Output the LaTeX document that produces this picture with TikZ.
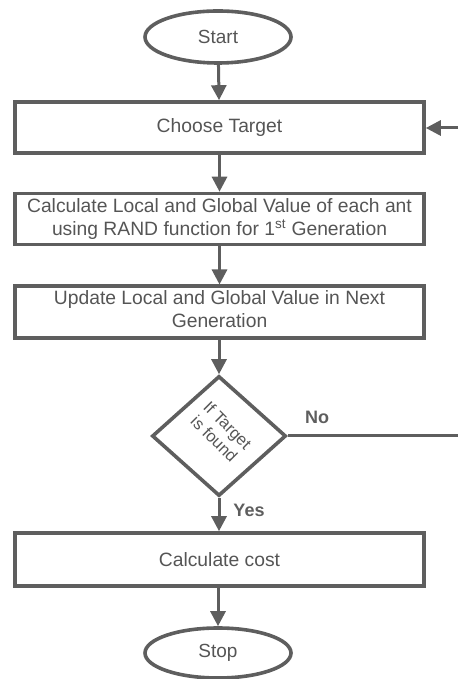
\documentclass[tikz,border=0pt]{standalone}
\usepackage{fontspec}
\setmainfont{Liberation Sans}
\usetikzlibrary{shapes.geometric,arrows.meta}
\definecolor{ln}{HTML}{5E5E5E}
\definecolor{tx}{HTML}{555555}
\tikzset{
  box/.style={draw=ln,line width=3.6pt,minimum width=409pt,inner sep=0pt,align=center,text=tx,font=\fontsize{19.3}{23.5}\selectfont},
  term/.style={draw=ln,line width=3.6pt,ellipse,minimum width=146pt,minimum height=52pt,inner sep=0pt,text=tx,font=\fontsize{19}{22}\selectfont},
  dec/.style={draw=ln,line width=3.6pt,diamond,minimum width=134pt,minimum height=120pt,inner sep=0pt},
  arr/.style={draw=ln,line width=3pt,-{Triangle[length=15pt,width=15pt]}},
  plain/.style={draw=ln,line width=3pt},
  lab/.style={text=ln,font=\bfseries\fontsize{18}{20}\selectfont,inner sep=0pt}
}
\begin{document}
\begin{tikzpicture}[x=1pt,y=1pt]
\useasboundingbox (0,0) rectangle (458,679);
\node[term] (start) at (218,642) {Start};
\node[box,minimum height=51pt] (choose) at (219.5,551.5) {Choose Target};
\node[box,minimum height=51pt] (calc) at (219.5,460) {Calculate Local and Global Value of each ant\\using RAND function for 1\textsuperscript{st} Generation};
\node[box,minimum height=52pt,anchor=north,text height=12pt] (upd) at (219.5,394.5) {};
\node[text=tx,font=\fontsize{19.3}{23.5}\selectfont,align=center,inner sep=0pt] (updtext) at (219.5,370) {Update Local and Global Value in Next\\Generation};
\node[dec] (dia) at (219,243) {};
\node[text=tx,font=\fontsize{16.5}{19}\selectfont,align=center,rotate=-45,inner sep=0pt] (diatext) at (221,247) {If Target\\is found};
\node[box,minimum height=53pt] (cost) at (219.5,119.5) {Calculate cost};
\node[term,minimum height=50pt] (stop) at (218,26) {Stop};
\coordinate (noend) at (458,243);
\coordinate (inend) at (458,551);
\draw[arr] (start) -- (choose);
\draw[arr] (choose) -- (calc);
\draw[arr] (calc) -- (upd);
\draw[arr] (upd.south -| dia.north) -- (dia.north);
\draw[arr] (dia) -- (cost.north -| dia.south);
\draw[arr] (cost.south -| stop.north) -- (stop);
\draw[plain] (dia.east) -- (noend);
\draw[arr] (inend) -- (choose.east |- inend);
\node[lab] (no) at (317,262) {No};
\node[lab] (yes) at (249,169) {Yes};
\end{tikzpicture}
\end{document}
